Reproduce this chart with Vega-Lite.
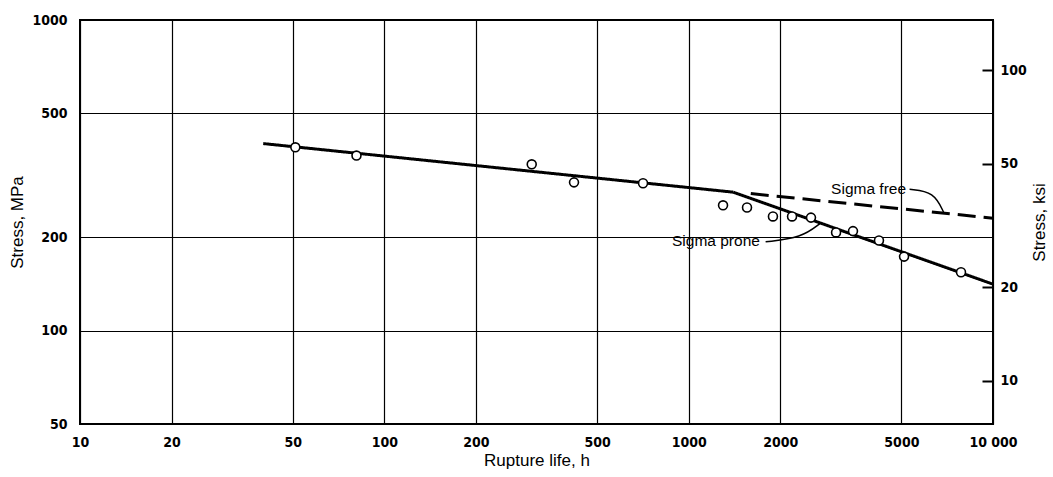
{
  "$schema": "https://vega.github.io/schema/vega-lite/v6.json",
  "width": 913,
  "height": 404,
  "autosize": {"type": "none"},
  "padding": {"left": 80, "top": 20, "right": 60, "bottom": 53},
  "background": "white",
  "config": {
    "view": {"stroke": "black", "strokeWidth": 2},
    "font": "Liberation Sans",
    "axis": {"titleColor": "black", "labelColor": "black"}
  },
  "encoding": {
    "x": {
      "field": "t",
      "type": "quantitative",
      "scale": {"type": "log", "domain": [10, 10000], "nice": false},
      "axis": {
        "values": [10, 20, 50, 100, 200, 500, 1000, 2000, 5000, 10000],
        "labelExpr": "datum.value == 10000 ? '10 000' : format(datum.value, 'd')",
        "grid": true,
        "gridColor": "black",
        "gridWidth": 1.2,
        "gridOpacity": 1,
        "ticks": false,
        "domain": false,
        "labelPadding": 11,
        "labelFont": "DejaVu Sans Condensed",
        "labelFontSize": 14,
        "labelFontWeight": "bold",
        "labelColor": "black",
        "labelFlush": false,
        "labelOverlap": false,
        "title": "Rupture life, h",
        "titleFont": "Liberation Sans",
        "titleFontSize": 17,
        "titleFontWeight": "normal",
        "titleColor": "black",
        "titlePadding": 3
      }
    }
  },
  "layer": [
    {
      "layer": [
        {
          "data": {
            "values": [
              {"series": "main", "o": 1, "t": 40, "s": 400},
              {"series": "main", "o": 2, "t": 1400, "s": 279},
              {"series": "prone", "o": 1, "t": 1400, "s": 279},
              {"series": "prone", "o": 2, "t": 10000, "s": 141},
              {"series": "free", "o": 1, "t": 1600, "s": 276},
              {"series": "free", "o": 2, "t": 10000, "s": 230}
            ]
          },
          "mark": {"type": "line", "color": "black", "strokeWidth": 3},
          "encoding": {
            "y": {"field": "s", "type": "quantitative"},
            "detail": {"field": "series"},
            "order": {"field": "o"},
            "strokeDash": {
              "field": "series",
              "scale": {"domain": ["main", "prone", "free"], "range": [[1, 0], [1, 0], [18, 8]]},
              "legend": null
            }
          }
        },
        {
          "data": {
            "values": [
              {"lead": "free", "o": 1, "t": 5320, "s": 285},
              {"lead": "free", "o": 2, "t": 6400, "s": 280},
              {"lead": "free", "o": 3, "t": 6900, "s": 239},
              {"lead": "prone", "o": 1, "t": 1790, "s": 193},
              {"lead": "prone", "o": 2, "t": 2350, "s": 199},
              {"lead": "prone", "o": 3, "t": 2700, "s": 221}
            ]
          },
          "mark": {"type": "line", "color": "black", "strokeWidth": 1.5, "interpolate": "basis"},
          "encoding": {
            "y": {"field": "s", "type": "quantitative"},
            "detail": {"field": "lead"},
            "order": {"field": "o"}
          }
        },
        {
          "data": {
            "values": [
              {"t": 51, "s": 389},
              {"t": 81, "s": 366},
              {"t": 305, "s": 343},
              {"t": 420, "s": 300},
              {"t": 708, "s": 298},
              {"t": 1297, "s": 253},
              {"t": 1555, "s": 249},
              {"t": 1892, "s": 233},
              {"t": 2186, "s": 233},
              {"t": 2523, "s": 231},
              {"t": 3050, "s": 207},
              {"t": 3467, "s": 209},
              {"t": 4220, "s": 195},
              {"t": 5102, "s": 173},
              {"t": 7850, "s": 154}
            ]
          },
          "mark": {"type": "point", "shape": "circle", "filled": true, "fill": "white", "stroke": "black", "strokeWidth": 1.6, "size": 80, "opacity": 1},
          "encoding": {
            "y": {
              "field": "s",
              "type": "quantitative",
              "scale": {"type": "log", "domain": [50, 1000], "nice": false},
              "axis": {
                "values": [50, 100, 200, 500, 1000],
                "format": "d",
                "grid": true,
                "gridColor": "black",
                "gridWidth": 1.2,
                "gridOpacity": 1,
                "ticks": false,
                "domain": false,
                "labelPadding": 13,
                "labelFont": "DejaVu Sans Condensed",
                "labelFontSize": 14,
                "labelFontWeight": "bold",
                "labelColor": "black",
                "labelFlush": false,
                "labelOverlap": false,
                "title": "Stress, MPa",
                "titleFont": "Liberation Sans",
                "titleFontSize": 17,
                "titleFontWeight": "normal",
                "titleColor": "black",
                "titlePadding": 5
              }
            }
          }
        },
        {
          "data": {
            "values": [
              {"label": "Sigma free", "t": 5180, "s": 285},
              {"label": "Sigma prone", "t": 1714, "s": 194}
            ]
          },
          "mark": {"type": "text", "align": "right", "baseline": "middle", "fontSize": 15.5, "font": "Liberation Sans", "color": "black"},
          "encoding": {
            "y": {"field": "s", "type": "quantitative"},
            "text": {"field": "label"}
          }
        }
      ]
    },
    {
      "data": {"values": [{"t": 10, "ksi": 10}]},
      "mark": {"type": "point", "opacity": 0},
      "encoding": {
        "y": {
          "field": "ksi",
          "type": "quantitative",
          "scale": {"type": "log", "domain": [7.2516, 145.03], "nice": false},
          "axis": {
            "orient": "right",
            "values": [10, 20, 50, 100],
            "format": "d",
            "grid": false,
            "ticks": true,
            "tickSize": -11,
            "tickWidth": 2,
            "tickColor": "black",
            "domain": false,
            "labelPadding": 18,
            "labelFont": "DejaVu Sans Condensed",
            "labelFontSize": 14,
            "labelFontWeight": "bold",
            "labelColor": "black",
            "labelFlush": false,
            "labelOverlap": false,
            "title": "Stress, ksi",
            "titleAngle": 270,
            "titleFont": "Liberation Sans",
            "titleFontSize": 17,
            "titleFontWeight": "normal",
            "titleColor": "black",
            "titlePadding": 22
          }
        }
      }
    }
  ],
  "resolve": {"scale": {"y": "independent"}, "axis": {"y": "independent"}}
}
